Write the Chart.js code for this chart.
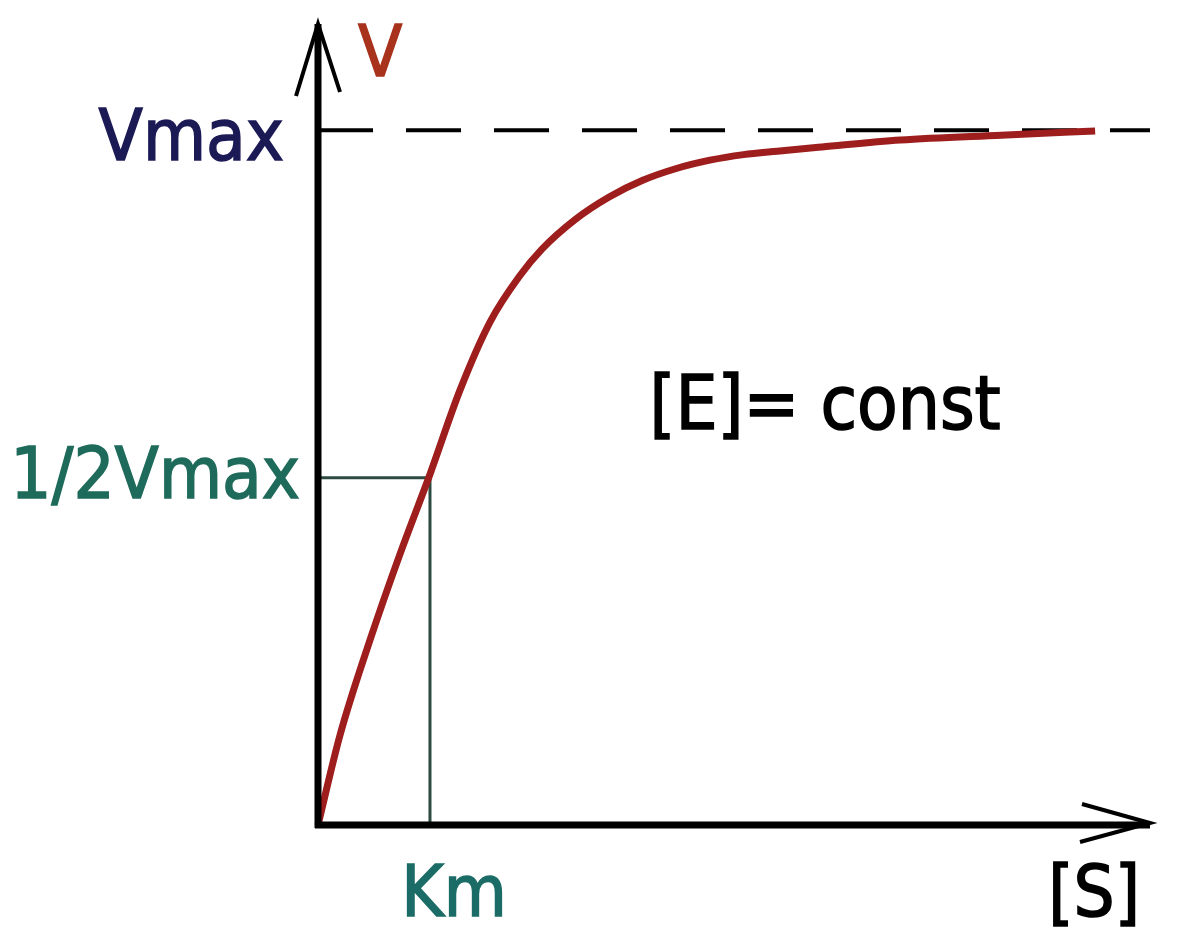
<!DOCTYPE html>
<html>
<head>
<meta charset="utf-8">
<script src="https://cdn.jsdelivr.net/npm/chart.js@4"></script>
<style>
  body { margin: 0; background: #fff; }
  canvas { display: block; }
</style>
</head>
<body>
<canvas id="mmChart" width="1186" height="950"></canvas>
<script>
// substrate concentration [S] (Km = 1) and rate v (Vmax = 1)
const sValues = [0, 0.196, 0.464, 0.732, 1.0, 1.268, 1.536, 1.804, 2.0, 2.3, 2.6, 2.9, 3.2, 3.5, 3.8, 4.1, 4.5, 5.2, 6.1, 6.94];
const vValues = [0, 0.129, 0.266, 0.39, 0.505, 0.626, 0.724, 0.791, 0.829, 0.872, 0.904, 0.928, 0.945, 0.957, 0.965, 0.97, 0.976, 0.986, 0.993, 0.999];

const vmax = 1;
const km = 1;
const xMax = 7.43;
const yMax = 1.13;

const FONT = '"DejaVu Sans Condensed", "DejaVu Sans", sans-serif';

const curve = sValues.map((s, i) => ({ x: s, y: vValues[i] }));

function label(ctx, text, x, y, color) {
    ctx.fillStyle = color;
    ctx.strokeStyle = color;
    ctx.lineWidth = 1.5;
    ctx.fillText(text, x, y);
    ctx.strokeText(text, x, y);
}

// axes, arrows and labels, placed through the chart scales
const annotate = {
    id: 'annotate',
    afterDatasetsDraw(chart) {
        const ctx = chart.ctx;
        const xs = chart.scales.x;
        const ys = chart.scales.y;
        const x0 = xs.getPixelForValue(0);
        const y0 = ys.getPixelForValue(0);
        const xEnd = xs.getPixelForValue(xMax);
        const yTop = ys.getPixelForValue(yMax) - 16;

        ctx.save();
        ctx.strokeStyle = '#000';
        ctx.lineCap = 'butt';
        ctx.lineWidth = 7;
        ctx.beginPath();
        ctx.moveTo(x0, y0 + 3);
        ctx.lineTo(x0, yTop);
        ctx.moveTo(x0 - 3, y0);
        ctx.lineTo(xEnd, y0);
        ctx.stroke();

        // arrow heads
        ctx.lineWidth = 4;
        ctx.beginPath();
        ctx.moveTo(x0 - 22, yTop + 72);
        ctx.lineTo(x0, yTop);
        ctx.lineTo(x0 + 22, yTop + 68);
        ctx.moveTo(xEnd - 68, y0 - 21);
        ctx.lineTo(xEnd, y0 - 2);
        ctx.lineTo(xEnd - 70, y0 + 17);
        ctx.stroke();

        ctx.font = '72px ' + FONT;
        ctx.textBaseline = 'alphabetic';

        ctx.textAlign = 'right';
        label(ctx, 'Vmax', x0 - 34, ys.getPixelForValue(vmax) + 30, '#1b1a55');
        label(ctx, '1/2Vmax', x0 - 18, ys.getPixelForValue(vmax / 2) + 20, '#1f6b5b');

        ctx.textAlign = 'center';
        label(ctx, 'Km', xs.getPixelForValue(km) + 24, y0 + 91, '#1b6c66');

        ctx.textAlign = 'right';
        label(ctx, '[S]', xEnd - 10, y0 + 91, '#000');

        ctx.textAlign = 'left';
        label(ctx, 'V', x0 + 40, yTop + 52, '#a8321c');

        ctx.font = '74px ' + FONT;
        label(ctx, '[E]= const', xs.getPixelForValue(2.96), ys.getPixelForValue(0.57), '#000');
        ctx.restore();
    }
};

new Chart(document.getElementById('mmChart'), {
    type: 'scatter',
    data: {
        datasets: [
            {
                label: 'v',
                data: curve,
                showLine: true,
                borderColor: '#9e1d1d',
                borderWidth: 7,
                pointRadius: 0,
                cubicInterpolationMode: 'monotone',
                clip: false
            },
            {
                label: 'Vmax',
                data: [{ x: 0, y: vmax }, { x: xMax, y: vmax }],
                showLine: true,
                borderColor: '#000',
                borderWidth: 4,
                borderDash: [55, 33],
                pointRadius: 0,
                clip: false
            },
            {
                label: 'Km',
                data: [{ x: 0, y: vmax / 2 }, { x: km, y: vmax / 2 }, { x: km, y: 0 }],
                showLine: true,
                borderColor: '#2c4a42',
                borderWidth: 3,
                pointRadius: 0,
                clip: false
            }
        ]
    },
    options: {
        responsive: false,
        animation: false,
        layout: { padding: { left: 318, right: 36, top: 40, bottom: 125 } },
        plugins: {
            legend: { display: false },
            tooltip: { enabled: false }
        },
        scales: {
            x: { type: 'linear', min: 0, max: xMax, display: false },
            y: { type: 'linear', min: 0, max: yMax, display: false }
        }
    },
    plugins: [annotate]
});
</script>
</body>
</html>
